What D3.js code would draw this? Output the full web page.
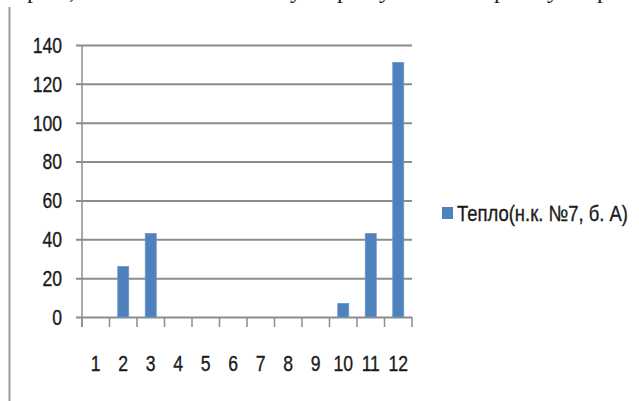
<!DOCTYPE html>
<html>
<head>
<meta charset="utf-8">
<script src="https://cdn.jsdelivr.net/npm/d3@7"></script>
<style>
  body { margin: 0; background: #fff; }
  svg { display: block; }
  .lbl { font-family: "Liberation Sans", Arial, sans-serif; fill: #1a1a1a; stroke: #1a1a1a; stroke-width: 0.35; }
</style>
</head>
<body>
<svg id="chart" width="639" height="401"></svg>
<script>
// data
var months = ['1', '2', '3', '4', '5', '6', '7', '8', '9', '10', '11', '12'];
var heat = [0, 26, 43, 0, 0, 0, 0, 0, 0, 7, 43, 131];
var yTicks = [0, 20, 40, 60, 80, 100, 120, 140];
var seriesName = 'Тепло(н.к. №7, б. А)';
// bits of the text line above, cut off by the page crop
var topGlyphs = ['р', ',', 'у', 'р', 'у', 'р', 'у', 'р'];
var topGlyphX = [33, 72, 296, 343, 385, 500, 553, 603];

var svg = d3.select('#chart');
var margin = {left: 82, top: 45, right: 227, bottom: 84};
var w = 639 - margin.left - margin.right;
var h = 401 - margin.top - margin.bottom;
var squeeze = 0.8; // the scan is narrower than the font

var x = d3.scaleBand().domain(months).range([0, w]).paddingInner(0.6).paddingOuter(0.3);
var y = d3.scaleLinear().domain([0, 140]).range([h, 0]);

// page border on the left and the clipped text line
svg.append('line')
  .attr('x1', 9.5).attr('x2', 9.5).attr('y1', 7).attr('y2', 401)
  .attr('stroke', '#9a9a9a').attr('stroke-width', 2);

svg.selectAll('text.frag')
  .data(topGlyphs)
  .enter().append('text')
  .attr('class', 'frag')
  .attr('x', function(d, i) { return topGlyphX[i]; })
  .attr('y', -2)
  .attr('text-anchor', 'middle')
  .style('font-family', '"Liberation Serif", serif')
  .style('font-size', '24px')
  .style('fill', '#222')
  .text(function(d) { return d; });

var g = svg.append('g').attr('transform', 'translate(' + margin.left + ',' + margin.top + ')');

// gridlines + y axis ticks
var yAxis = d3.axisLeft(y).tickValues(yTicks).tickSize(-w).tickFormat('');
var ya = g.append('g').call(yAxis);
ya.select('.domain').remove();
ya.selectAll('.tick line')
  .attr('x1', -6)
  .attr('stroke', '#8c8c8c')
  .attr('stroke-width', 2);

g.selectAll('text.yl')
  .data(yTicks)
  .enter().append('text')
  .attr('class', 'lbl yl')
  .attr('transform', function(d) { return 'translate(-20,' + y(d) + ') scale(' + squeeze + ',1)'; })
  .attr('text-anchor', 'end')
  .attr('dy', '0.36em')
  .style('font-size', '22px')
  .text(function(d) { return d; });

// y axis line
g.append('line')
  .attr('x1', 0).attr('x2', 0).attr('y1', 0).attr('y2', h + 10)
  .attr('stroke', '#8c8c8c').attr('stroke-width', 1.5);

// category boundary ticks under the axis
var bounds = d3.range(months.length + 1);
g.selectAll('line.xt')
  .data(bounds)
  .enter().append('line')
  .attr('class', 'xt')
  .attr('x1', function(d) { return d * (w / months.length); })
  .attr('x2', function(d) { return d * (w / months.length); })
  .attr('y1', h).attr('y2', h + 10)
  .attr('stroke', '#8c8c8c').attr('stroke-width', 1.5);

// bars
g.selectAll('rect.bar')
  .data(heat)
  .enter().append('rect')
  .attr('class', 'bar')
  .attr('x', function(d, i) { return x(months[i]); })
  .attr('width', x.bandwidth())
  .attr('y', function(d) { return y(d); })
  .attr('height', function(d) { return h - y(d); })
  .attr('fill', '#4f81bd')
  .attr('stroke', '#6b97cc')
  .attr('stroke-width', 0.8);

// x labels
g.selectAll('text.xl')
  .data(months)
  .enter().append('text')
  .attr('class', 'lbl xl')
  .attr('transform', function(d) {
    return 'translate(' + (x(d) + x.bandwidth() / 2) + ',' + (h + 54) + ') scale(' + squeeze + ',1)';
  })
  .attr('text-anchor', 'middle')
  .style('font-size', '22px')
  .text(function(d) { return d; });

// legend
var lg = svg.append('g').attr('transform', 'translate(442,207)');
lg.append('rect').attr('width', 11).attr('height', 12).attr('fill', '#4f81bd');
lg.append('text')
  .attr('class', 'lbl')
  .attr('x', 15).attr('y', 6)
  .attr('dy', '0.36em')
  .attr('textLength', 171)
  .attr('lengthAdjust', 'spacingAndGlyphs')
  .style('font-size', '22px')
  .text(seriesName);
</script>
</body>
</html>
